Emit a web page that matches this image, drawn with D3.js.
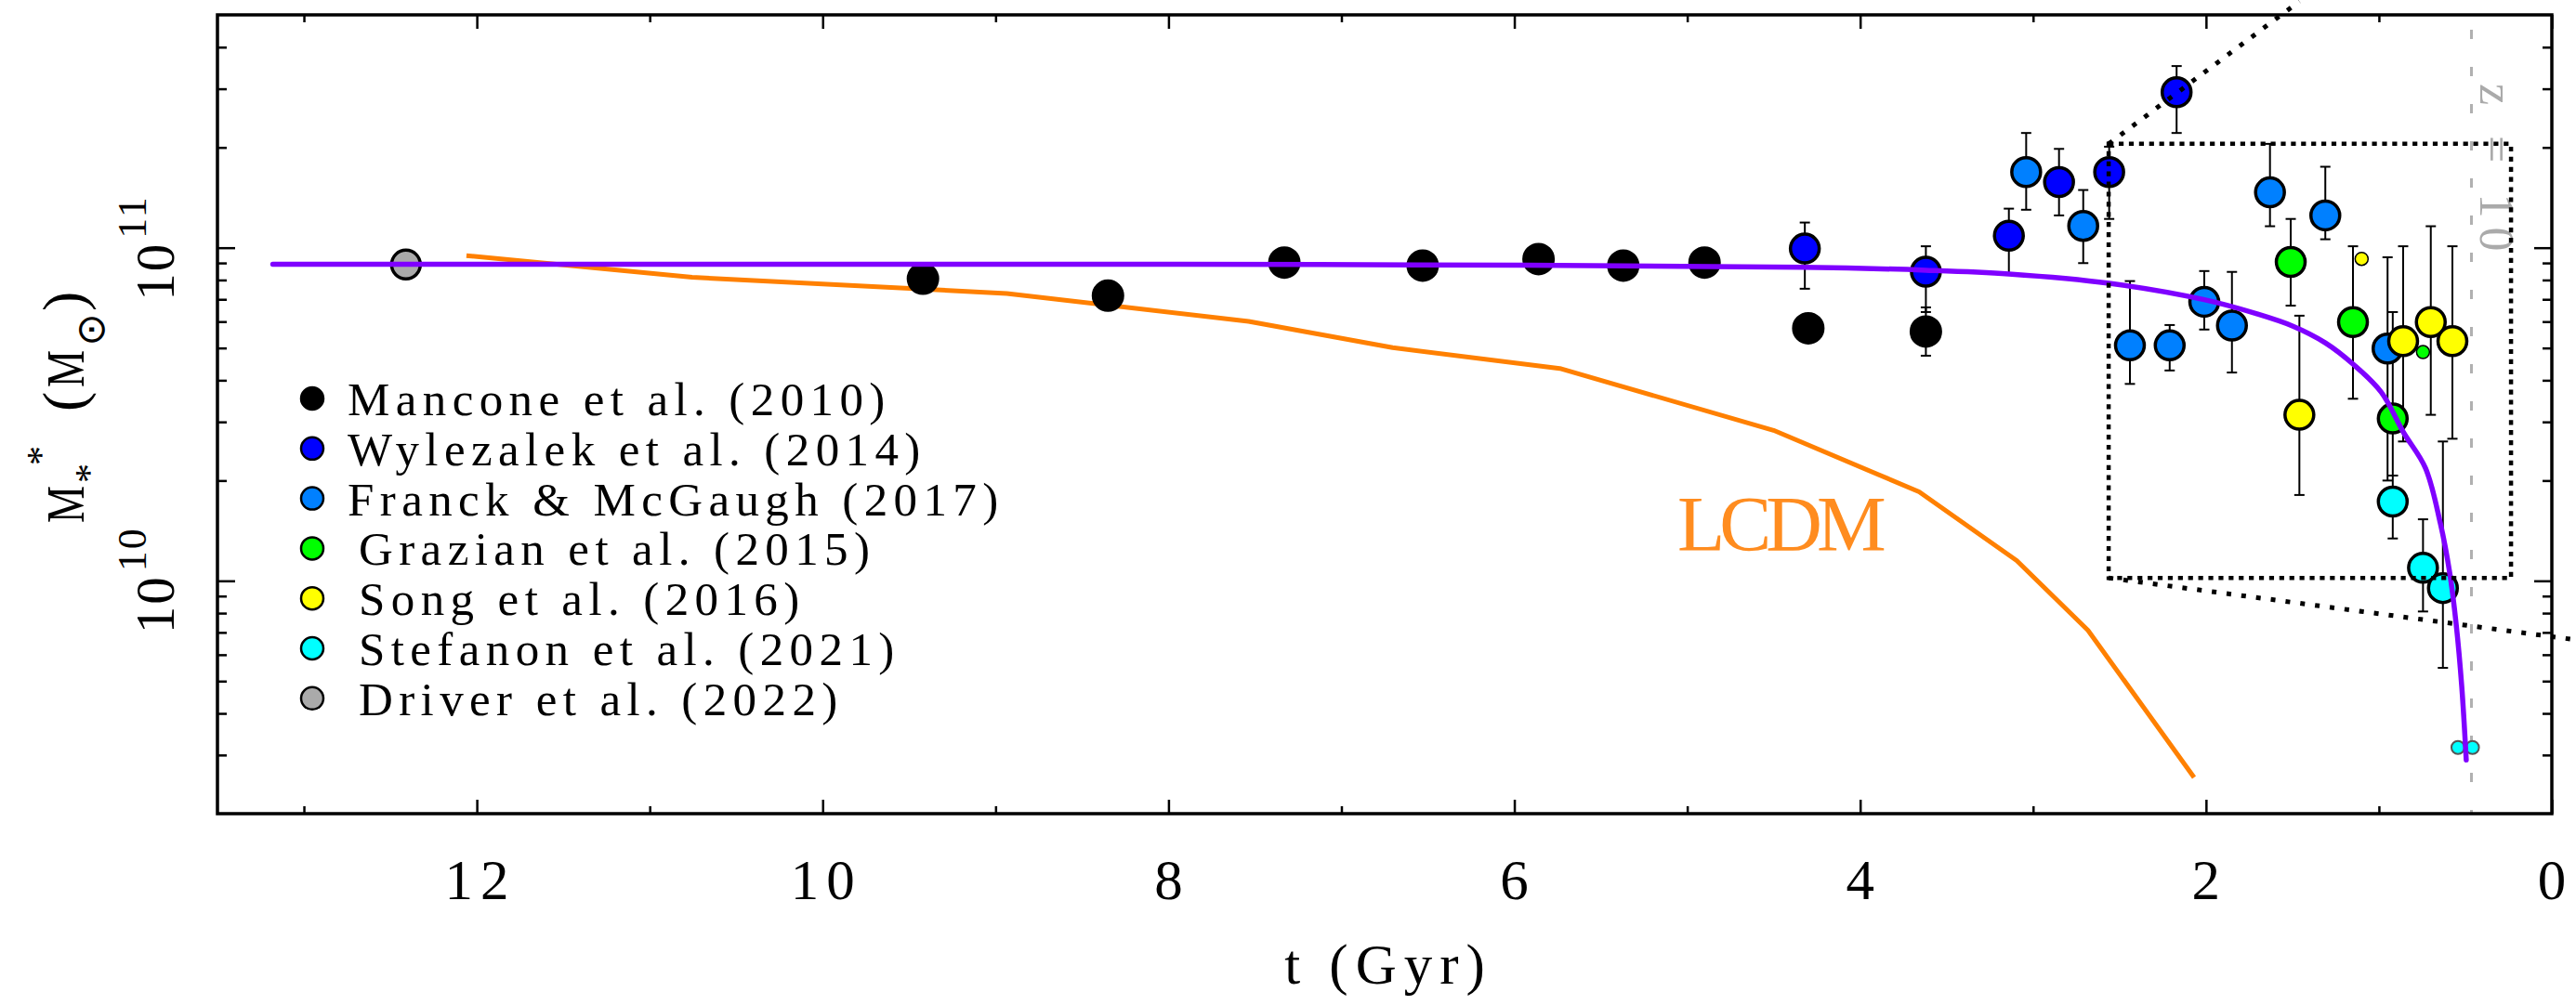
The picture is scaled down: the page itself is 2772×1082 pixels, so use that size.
<!DOCTYPE html>
<html><head><meta charset="utf-8">
<script src="https://cdn.jsdelivr.net/npm/d3@7"></script>
<style>body{margin:0;background:#fff}svg{display:block}</style>
</head><body>
<svg id="c" width="2772" height="1082"></svg>
<script>
// ---------- data ----------
const xMajorTicks = [12, 10, 8, 6, 4, 2, 0];
const xMinorTicks = [13, 11, 9, 7, 5, 3, 1];
const xTickLabels = ["12", "10", "8", "6", "4", "2", "0"];
const yMajorTicks = [1e10, 1e11];
const yMajorExp = ["10", "11"];
const yMinorTicks = [3e9,4e9,5e9,6e9,7e9,8e9,9e9,2e10,3e10,4e10,5e10,6e10,7e10,8e10,9e10,2e11,3e11,4e11];

const manconeT = [9.42, 8.35, 7.33, 6.53, 5.86, 5.37, 4.90, 4.30, 3.62];
const manconeM = [8.07e10, 7.18e10, 9.02e10, 8.84e10, 9.24e10, 8.84e10, 9.02e10, 5.73e10, 5.60e10];
const manconeLo = [null, null, null, null, null, null, null, null, 4.74e10];
const manconeHi = [null, null, null, null, null, null, null, null, 6.62e10];

const wylezalekT = [4.32, 3.62, 3.14, 2.85, 2.56, 2.17];
const wylezalekM = [9.94e10, 8.47e10, 1.087e11, 1.574e11, 1.687e11, 2.93e11];
const wylezalekLo = [7.53e10, 6.41e10, 8.39e10, 1.25e11, 1.22e11, 2.21e11];
const wylezalekHi = [1.19e11, 1.01e11, 1.31e11, 1.98e11, 2.01e11, 3.51e11];

const franckT = [3.04, 2.71, 2.44, 2.21, 2.01, 1.85, 1.63, 1.31, 0.95];
const franckM = [1.687e11, 1.162e11, 5.09e10, 5.09e10, 6.88e10, 5.84e10, 1.466e11, 1.25e11, 4.98e10];
const franckLo = [1.30e11, 8.99e10, 3.9e10, 4.28e10, 5.68e10, 4.22e10, 1.16e11, 1.06e11, 2.0e10];
const franckHi = [2.21e11, 1.49e11, 7.94e10, 5.86e10, 8.51e10, 8.46e10, 2.05e11, 1.75e11, 9.36e10];

const grazianT = [1.51, 1.15, 0.92];
const grazianM = [9.06e10, 5.98e10, 3.07e10];
const grazianLo = [6.7e10, 3.52e10, 2.07e10];
const grazianHi = [1.22e11, 1.01e11, 6.41e10];
const grazianSmallT = [0.745];
const grazianSmallM = [4.86e10];

const songT = [1.46, 0.86, 0.70, 0.575];
const songM = [3.15e10, 5.24e10, 5.98e10, 5.24e10];
const songLo = [1.81e10, 2.62e10, 3.15e10, 2.67e10];
const songHi = [6.25e10, 1.01e11, 1.16e11, 1.01e11];
const songSmallT = [1.10];
const songSmallM = [9.26e10];

const stefanonT = [0.92, 0.745, 0.63];
const stefanonM = [1.73e10, 1.094e10, 9.51e9];
const stefanonLo = [1.34e10, 8.09e9, 5.48e9];
const stefanonHi = [2.07e10, 1.53e10, 2.62e10];
const stefanonSmallT = [0.543, 0.459];
const stefanonSmallM = [3.16e9, 3.16e9];

const driverT = [12.41];
const driverM = [8.9e10];

const modelT = [13.18, 9.0, 7.13, 4.33, 3.62, 3.14, 2.56, 2.01, 1.71, 1.50, 1.31, 1.145, 0.986, 0.858, 0.731, 0.645, 0.591, 0.553, 0.521, 0.495];
const modelM = [8.92e10, 8.92e10, 8.9e10, 8.74e10, 8.56e10, 8.34e10, 7.82e10, 6.98e10, 6.34e10, 5.82e10, 5.18e10, 4.45e10, 3.68e10, 2.79e10, 2.18e10, 1.49e10, 1.06e10, 7.39e9, 4.82e9, 2.90e9];

const lcdmT = [12.06, 10.755, 8.935, 7.537, 6.704, 5.737, 4.501, 3.659, 3.095, 2.683, 2.069];
const lcdmM = [9.47e10, 8.15e10, 7.29e10, 6.01e10, 5.01e10, 4.34e10, 2.83e10, 1.85e10, 1.15e10, 7.11e9, 2.57e9];

const z10T = 0.465;
const boxT = [2.563, 0.236];
const boxM = [1.02e10, 2.05e11];
const diagTopEnd = [1.46, 5.49e11];
const diagBotEnd = [-0.14, 6.65e9];

const legendLabels = ["Mancone et al. (2010)", "Wylezalek et al. (2014)", "Franck & McGaugh (2017)",
  "Grazian et al. (2015)", "Song et al. (2016)", "Stefanon et al. (2021)", "Driver et al. (2022)"];
const legendColors = ["#000000", "#0000ff", "#0080ff", "#00ff00", "#ffff00", "#00ffff", "#aaaaaa"];

// ---------- layout ----------
const svg = d3.select("#c");
const L = 234, R = 2746, T = 16, B = 876;
const x = d3.scaleLinear().domain([13.5, 0]).range([L, R]);
const y = d3.scaleLog().domain([2e9, 5e11]).range([B, T]);
const serif = "'Liberation Serif','Times New Roman',serif";

// z = 10 line
svg.append("line").attr("x1", x(z10T)).attr("x2", x(z10T)).attr("y1", T).attr("y2", B)
  .attr("stroke", "#b0b0b0").attr("stroke-width", 3).attr("stroke-dasharray", "10,30").attr("stroke-dashoffset", 24);
svg.append("text").attr("transform", `translate(${x(z10T) + 10},90) rotate(90)`)
  .attr("font-family", serif).attr("font-size", 52).attr("letter-spacing", 10).attr("fill", "#aaaaaa")
  .text("z = 10");

// LCDM line
const lineGen = d3.line().x(d => x(d[0])).y(d => y(d[1]));
svg.append("path").datum(d3.zip(lcdmT, lcdmM)).attr("d", lineGen)
  .attr("fill", "none").attr("stroke", "#ff8000").attr("stroke-width", 5).attr("stroke-linejoin", "round");
svg.append("text").attr("x", 1805).attr("y", 593).attr("font-family", serif).attr("font-size", 84)
  .attr("letter-spacing", -6).attr("fill", "#ff8c1f").text("LCDM");

// error bars + markers
const gErr = svg.append("g");
const gPts = svg.append("g");
function drawSet(ts, ms, lo, hi, fill, r, stroke, sw) {
  ts.forEach((t, i) => {
    if (lo && lo[i] != null) {
      const cx = x(t);
      gErr.append("line").attr("x1", cx).attr("x2", cx).attr("y1", y(lo[i])).attr("y2", y(hi[i]))
        .attr("stroke", "#000").attr("stroke-width", 2);
      [lo[i], hi[i]].forEach(v => gErr.append("line").attr("x1", cx - 5.5).attr("x2", cx + 5.5)
        .attr("y1", y(v)).attr("y2", y(v)).attr("stroke", "#000").attr("stroke-width", 2));
    }
  });
  ts.forEach((t, i) => gPts.append("circle").attr("cx", x(t)).attr("cy", y(ms[i])).attr("r", r)
    .attr("fill", fill).attr("stroke", stroke).attr("stroke-width", sw));
}
drawSet(driverT, driverM, null, null, "#aaaaaa", 15.5, "#000", 3.5);
drawSet(manconeT, manconeM, manconeLo, manconeHi, "#000", 16, "#000", 3);
drawSet(wylezalekT, wylezalekM, wylezalekLo, wylezalekHi, "#0000ff", 15.5, "#000", 3.5);
drawSet(franckT, franckM, franckLo, franckHi, "#0080ff", 15.5, "#000", 3.5);
drawSet(songSmallT, songSmallM, null, null, "#ffff00", 7, "#000", 1.5);
drawSet(grazianT, grazianM, grazianLo, grazianHi, "#00ff00", 15.5, "#000", 3.5);
drawSet(songT, songM, songLo, songHi, "#ffff00", 15.5, "#000", 3.5);
drawSet(grazianSmallT, grazianSmallM, null, null, "#00ff00", 7, "#000", 1.5);
drawSet(stefanonT, stefanonM, stefanonLo, stefanonHi, "#00ffff", 15.5, "#000", 3.5);
drawSet(stefanonSmallT, stefanonSmallM, null, null, "#00ffff", 7, "#555", 2);

// model line (on top)
svg.append("path").datum(d3.zip(modelT, modelM))
  .attr("d", d3.line().x(d => x(d[0])).y(d => y(d[1])).curve(d3.curveCatmullRom.alpha(0.5)))
  .attr("fill", "none").attr("stroke", "#7f00ff").attr("stroke-width", 5.5).attr("stroke-linecap", "round");

// dotted zoom box and diagonals
svg.append("rect").attr("x", x(boxT[0])).attr("y", y(boxM[1]))
  .attr("width", x(boxT[1]) - x(boxT[0])).attr("height", y(boxM[0]) - y(boxM[1]))
  .attr("fill", "none").attr("stroke", "#000").attr("stroke-width", 4.5).attr("stroke-dasharray", "5.2,5.7");
svg.append("line").attr("x1", x(boxT[0])).attr("y1", y(boxM[1])).attr("x2", x(diagTopEnd[0])).attr("y2", y(diagTopEnd[1]))
  .attr("stroke", "#000").attr("stroke-width", 5).attr("stroke-dasharray", "5,11");
svg.append("line").attr("x1", x(boxT[0])).attr("y1", y(boxM[0])).attr("x2", x(diagBotEnd[0])).attr("y2", y(diagBotEnd[1]))
  .attr("stroke", "#000").attr("stroke-width", 5).attr("stroke-dasharray", "5,11");

// axes ticks (inward, all four sides)
function tickify(g) { g.select(".domain").remove(); g.selectAll("line").attr("stroke", "#000").attr("stroke-width", 2.5); }
svg.append("g").attr("transform", `translate(0,${B})`).call(d3.axisBottom(x).tickValues(xMajorTicks).tickSize(-15).tickFormat("")).call(tickify);
svg.append("g").attr("transform", `translate(0,${B})`).call(d3.axisBottom(x).tickValues(xMinorTicks).tickSize(-8).tickFormat("")).call(tickify);
svg.append("g").attr("transform", `translate(0,${T})`).call(d3.axisTop(x).tickValues(xMajorTicks).tickSize(-15).tickFormat("")).call(tickify);
svg.append("g").attr("transform", `translate(0,${T})`).call(d3.axisTop(x).tickValues(xMinorTicks).tickSize(-8).tickFormat("")).call(tickify);
svg.append("g").attr("transform", `translate(${L},0)`).call(d3.axisLeft(y).tickValues(yMajorTicks).tickSize(-19).tickFormat("")).call(tickify);
svg.append("g").attr("transform", `translate(${L},0)`).call(d3.axisLeft(y).tickValues(yMinorTicks).tickSize(-10).tickFormat("")).call(tickify);
svg.append("g").attr("transform", `translate(${R},0)`).call(d3.axisRight(y).tickValues(yMajorTicks).tickSize(-19).tickFormat("")).call(tickify);
svg.append("g").attr("transform", `translate(${R},0)`).call(d3.axisRight(y).tickValues(yMinorTicks).tickSize(-10).tickFormat("")).call(tickify);
svg.append("rect").attr("x", L).attr("y", T).attr("width", R - L).attr("height", B - T)
  .attr("fill", "none").attr("stroke", "#000").attr("stroke-width", 3.5);

// x tick labels
xMajorTicks.forEach((v, i) => svg.append("text").attr("x", x(v) + 4).attr("y", 968)
  .attr("text-anchor", "middle").attr("font-family", serif).attr("font-size", 61).attr("letter-spacing", 8)
  .text(xTickLabels[i]));
svg.append("text").attr("x", (L + R) / 2 + 4).attr("y", 1059).attr("text-anchor", "middle")
  .attr("font-family", serif).attr("font-size", 61).attr("letter-spacing", 8).text("t (Gyr)");

// y tick labels (rotated)
yMajorTicks.forEach((v, i) => {
  const t = svg.append("text").attr("transform", `translate(187,${y(v) + 57}) rotate(-90)`)
    .attr("font-family", serif);
  t.append("tspan").attr("font-size", 59).attr("letter-spacing", 2).text("10");
  t.append("tspan").attr("font-size", 44).attr("dy", -30).attr("dx", 4).attr("letter-spacing", 2).text(yMajorExp[i]);
});

// y title
const yt = svg.append("g").attr("transform", "rotate(-90)").attr("font-family", serif);
yt.append("text").attr("x", -563).attr("y", 90).attr("font-size", 58).attr("textLength", 40).attr("lengthAdjust", "spacingAndGlyphs").text("M");
yt.append("text").attr("x", -520).attr("y", 110).attr("font-size", 42).text("*");
yt.append("text").attr("x", -501).attr("y", 58).attr("font-size", 42).text("*");
yt.append("text").attr("x", -443).attr("y", 90).attr("font-size", 64).text("(");
yt.append("text").attr("x", -417).attr("y", 90).attr("font-size", 58).attr("textLength", 40).attr("lengthAdjust", "spacingAndGlyphs").text("M");
yt.append("text").attr("x", -355).attr("y", 97).attr("font-size", 42).attr("text-anchor", "middle")
  .attr("dominant-baseline", "central").attr("font-family", "'DejaVu Sans',sans-serif").text("⊙");
yt.append("text").attr("x", -335).attr("y", 90).attr("font-size", 64).text(")");

// legend
const legendX = [374, 374, 374, 386, 386, 386, 386];
legendLabels.forEach((lab, i) => {
  const cy = 429 + i * 53.8;
  svg.append("circle").attr("cx", 336).attr("cy", cy).attr("r", 12).attr("fill", legendColors[i])
    .attr("stroke", "#000").attr("stroke-width", 2.5);
  svg.append("text").attr("x", legendX[i]).attr("y", cy + 18).attr("font-family", serif)
    .attr("font-size", 51).attr("letter-spacing", 6.4).text(lab);
});
</script>
</body></html>
